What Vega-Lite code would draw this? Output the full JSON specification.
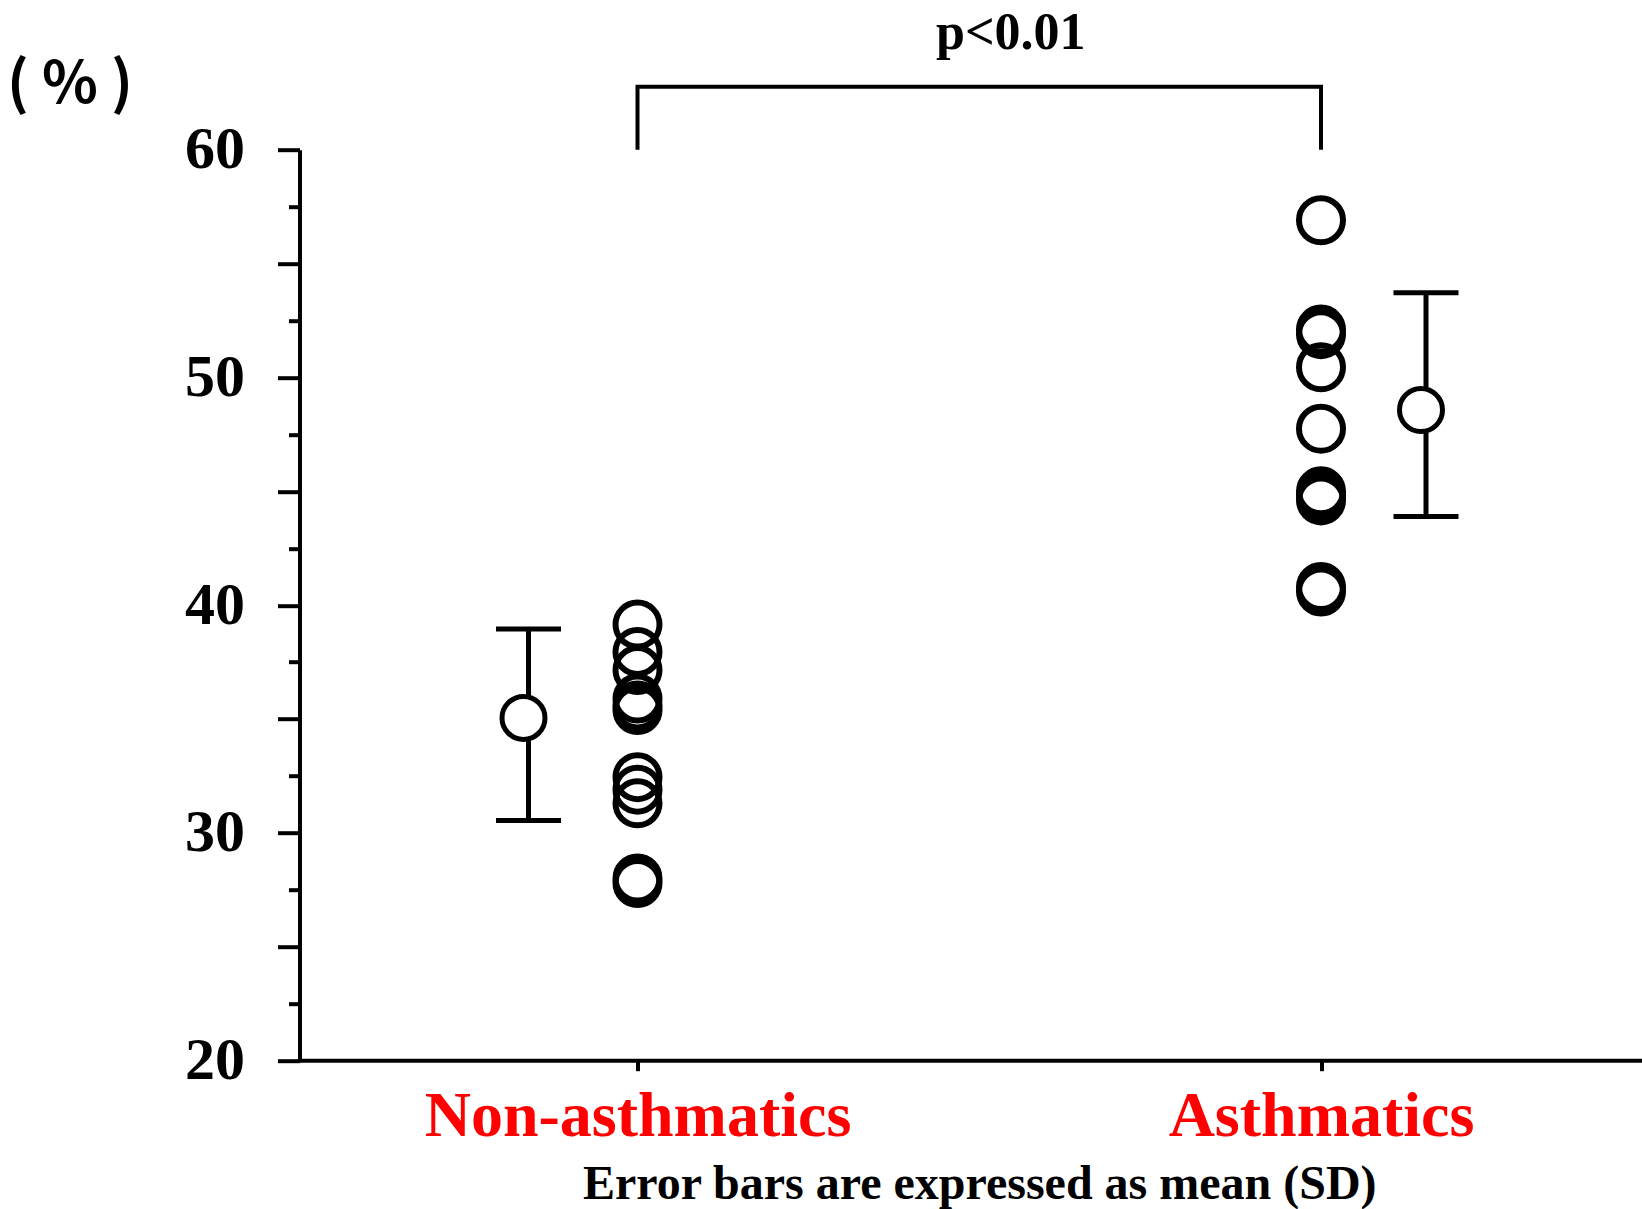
{
  "$schema": "https://vega.github.io/schema/vega-lite/v6.json",
  "width": 1342.5,
  "height": 911,
  "autosize": {"type": "none"},
  "padding": {"left": 299.5, "top": 149.7, "right": 0, "bottom": 148.3},
  "background": "white",
  "config": {"view": {"stroke": null}, "font": "Liberation Serif"},
  "title": {
    "text": "p<0.01",
    "font": "Liberation Serif",
    "fontSize": 52,
    "fontWeight": "bold",
    "color": "black",
    "anchor": "middle",
    "frame": "group",
    "dx": 40,
    "offset": -3
  },
  "datasets": {
    "subjects": [
      {"group": "Non-asthmatics", "value": 39.15},
      {"group": "Non-asthmatics", "value": 37.95},
      {"group": "Non-asthmatics", "value": 37.15},
      {"group": "Non-asthmatics", "value": 35.9},
      {"group": "Non-asthmatics", "value": 35.6},
      {"group": "Non-asthmatics", "value": 35.4},
      {"group": "Non-asthmatics", "value": 32.45},
      {"group": "Non-asthmatics", "value": 31.9},
      {"group": "Non-asthmatics", "value": 31.3},
      {"group": "Non-asthmatics", "value": 28.0},
      {"group": "Non-asthmatics", "value": 27.8},
      {"group": "Asthmatics", "value": 56.9},
      {"group": "Asthmatics", "value": 52.1},
      {"group": "Asthmatics", "value": 51.9},
      {"group": "Asthmatics", "value": 50.45},
      {"group": "Asthmatics", "value": 47.75},
      {"group": "Asthmatics", "value": 45.0},
      {"group": "Asthmatics", "value": 44.8},
      {"group": "Asthmatics", "value": 44.6},
      {"group": "Asthmatics", "value": 40.8},
      {"group": "Asthmatics", "value": 40.6}
    ],
    "summary": [
      {"group": "Non-asthmatics", "mean": 35.05, "lo": 30.55, "hi": 38.95},
      {"group": "Asthmatics", "mean": 48.57, "lo": 43.9, "hi": 53.72}
    ],
    "bracket": [
      {"group": "Non-asthmatics", "y": 60, "o": 1},
      {"group": "Non-asthmatics", "y": 62.76, "o": 2},
      {"group": "Asthmatics", "y": 62.76, "o": 3},
      {"group": "Asthmatics", "y": 60, "o": 4}
    ],
    "baseline": [
      {"y": 20}
    ]
  },
  "layer": [
    {
      "data": {"name": "baseline"},
      "mark": {"type": "rule", "color": "black", "strokeWidth": 4},
      "encoding": {
        "y": {"field": "y", "type": "quantitative", "scale": {"domain": [20, 60], "nice": false, "zero": false},
          "axis": {
            "values": [20, 22.5, 25, 27.5, 30, 32.5, 35, 37.5, 40, 42.5, 45, 47.5, 50, 52.5, 55, 57.5, 60],
            "labelExpr": "datum.value % 10 === 0 ? datum.label : ''",
            "tickSize": {"condition": {"test": "datum.value % 5 === 0", "value": 22}, "value": 11},
            "tickWidth": 4,
            "tickColor": "black",
            "domainColor": "black",
            "domainWidth": 4,
            "grid": false,
            "labelFont": "Liberation Serif",
            "labelFontSize": 60,
            "labelFontWeight": "bold",
            "labelColor": "black",
            "labelPadding": 33,
            "labelOverlap": false,
            "labelBound": false,
            "title": "( % )",
            "titleFont": "Noto Sans CJK JP",
            "titleFontSize": 58,
            "titleFontWeight": "bold",
            "titleColor": "black",
            "titleAngle": 0,
            "titleAlign": "center",
            "titleBaseline": "middle",
            "titleX": -230,
            "titleY": -64
          }
        }
      }
    },
    {
      "data": {"name": "bracket"},
      "mark": {"type": "line", "color": "black", "strokeWidth": 4, "clip": false, "strokeJoin": "miter"},
      "encoding": {
        "x": {"field": "group", "type": "nominal", "scale": {"type": "point", "domain": ["Non-asthmatics", "Asthmatics"], "range": [338, 1021.5], "padding": 0}},
        "y": {"field": "y", "type": "quantitative", "scale": {"domain": [20, 60], "nice": false, "zero": false}},
        "order": {"field": "o", "type": "quantitative"}
      }
    },
    {
      "data": {"name": "subjects"},
      "mark": {"type": "point", "shape": "circle", "size": 1936, "strokeWidth": 6, "color": "black", "filled": false, "opacity": 1},
      "encoding": {
        "x": {
          "field": "group",
          "type": "nominal",
          "sort": ["Non-asthmatics", "Asthmatics"],
          "scale": {"type": "point", "domain": ["Non-asthmatics", "Asthmatics"], "range": [338, 1021.5], "padding": 0},
          "axis": {
            "domain": false,
            "ticks": true,
            "tickSize": 10,
            "tickWidth": 4,
            "tickColor": "black",
            "labelColor": "#ff0000",
            "labelFont": "Liberation Serif",
            "labelFontSize": 64,
            "labelFontWeight": "bold",
            "labelPadding": 14,
            "labelAngle": 0,
            "labelAlign": "center",
            "labelBaseline": "top",
            "labelFlush": false,
            "labelLimit": 0,
            "labelOverlap": false,
            "labelBound": false,
            "title": "Error bars are expressed as mean (SD)",
            "titleFont": "Liberation Serif",
            "titleFontSize": 48,
            "titleFontWeight": "bold",
            "titleColor": "black",
            "titlePadding": 12
          }
        },
        "y": {"field": "value", "type": "quantitative", "scale": {"domain": [20, 60], "nice": false, "zero": false}}
      }
    },
    {
      "data": {"name": "summary"},
      "transform": [{"filter": "datum.group === 'Non-asthmatics'"}],
      "encoding": {
        "x": {"field": "group", "type": "nominal", "scale": {"type": "point", "domain": ["Non-asthmatics", "Asthmatics"], "range": [338, 1021.5], "padding": 0}}
      },
      "layer": [
        {
          "mark": {"type": "rule", "color": "black", "strokeWidth": 5, "xOffset": -109},
          "encoding": {
            "y": {"field": "lo", "type": "quantitative", "scale": {"domain": [20, 60], "nice": false, "zero": false}},
            "y2": {"field": "hi"}
          }
        },
        {
          "mark": {"type": "tick", "color": "black", "size": 65, "thickness": 5, "orient": "horizontal", "xOffset": -109, "opacity": 1},
          "encoding": {
            "y": {"field": "lo", "type": "quantitative", "scale": {"domain": [20, 60], "nice": false, "zero": false}}
          }
        },
        {
          "mark": {"type": "tick", "color": "black", "size": 65, "thickness": 5, "orient": "horizontal", "xOffset": -109, "opacity": 1},
          "encoding": {
            "y": {"field": "hi", "type": "quantitative", "scale": {"domain": [20, 60], "nice": false, "zero": false}}
          }
        },
        {
          "mark": {"type": "point", "shape": "circle", "size": 1849, "strokeWidth": 5, "stroke": "black", "fill": "white", "filled": true, "opacity": 1, "fillOpacity": 1, "xOffset": -114},
          "encoding": {
            "y": {"field": "mean", "type": "quantitative", "scale": {"domain": [20, 60], "nice": false, "zero": false}}
          }
        }
      ]
    },
    {
      "data": {"name": "summary"},
      "transform": [{"filter": "datum.group === 'Asthmatics'"}],
      "encoding": {
        "x": {"field": "group", "type": "nominal", "scale": {"type": "point", "domain": ["Non-asthmatics", "Asthmatics"], "range": [338, 1021.5], "padding": 0}}
      },
      "layer": [
        {
          "mark": {"type": "rule", "color": "black", "strokeWidth": 5, "xOffset": 105},
          "encoding": {
            "y": {"field": "lo", "type": "quantitative", "scale": {"domain": [20, 60], "nice": false, "zero": false}},
            "y2": {"field": "hi"}
          }
        },
        {
          "mark": {"type": "tick", "color": "black", "size": 65, "thickness": 5, "orient": "horizontal", "xOffset": 105, "opacity": 1},
          "encoding": {
            "y": {"field": "lo", "type": "quantitative", "scale": {"domain": [20, 60], "nice": false, "zero": false}}
          }
        },
        {
          "mark": {"type": "tick", "color": "black", "size": 65, "thickness": 5, "orient": "horizontal", "xOffset": 105, "opacity": 1},
          "encoding": {
            "y": {"field": "hi", "type": "quantitative", "scale": {"domain": [20, 60], "nice": false, "zero": false}}
          }
        },
        {
          "mark": {"type": "point", "shape": "circle", "size": 1849, "strokeWidth": 5, "stroke": "black", "fill": "white", "filled": true, "opacity": 1, "fillOpacity": 1, "xOffset": 100},
          "encoding": {
            "y": {"field": "mean", "type": "quantitative", "scale": {"domain": [20, 60], "nice": false, "zero": false}}
          }
        }
      ]
    }
  ]
}
